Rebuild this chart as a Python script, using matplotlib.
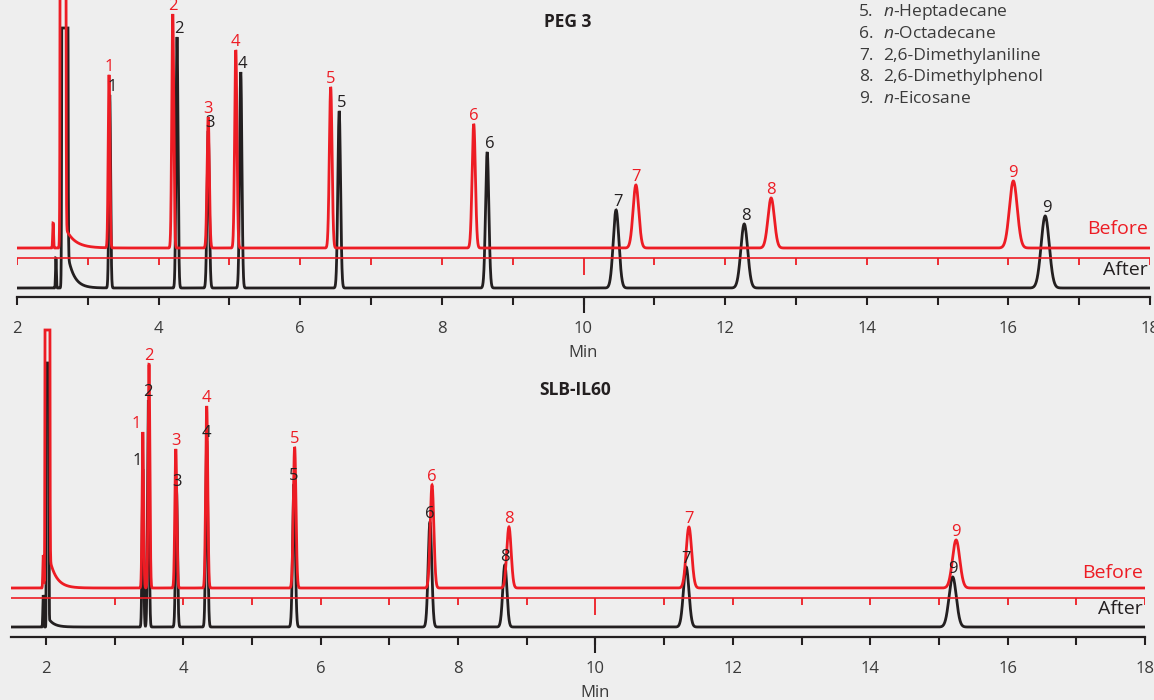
import numpy as np
import matplotlib.pyplot as plt

plt.rcParams["font.family"] = ["Open Sans", "DejaVu Sans"]
plt.rcParams["mathtext.fontset"] = "custom"
plt.rcParams["mathtext.it"] = "Open Sans:italic"
plt.rcParams["mathtext.rm"] = "Open Sans"

RED = "#ed1c24"
BLACK = "#231f20"
TEXT = "#3a3a3a"
BG = "#eeeeee"

peak_ids = ["1", "2", "3", "4", "5", "6", "7", "8", "9"]

# PEG 3 column: retention time (min), peak height, peak sigma (min)
peg_before_rt = [3.30, 4.20, 4.70, 5.09, 6.43, 8.45, 10.74, 12.65, 16.07]
peg_before_h = [173, 234, 131, 198, 161, 124, 63, 50, 67]
peg_before_sd = [0.012, 0.014, 0.016, 0.016, 0.019, 0.023, 0.040, 0.045, 0.055]
peg_after_rt = [3.31, 4.26, 4.70, 5.16, 6.55, 8.64, 10.46, 12.27, 16.52]
peg_after_h = [193, 251, 157, 216, 177, 136, 78, 64, 72]
peg_after_sd = [0.012, 0.014, 0.016, 0.016, 0.019, 0.023, 0.040, 0.048, 0.057]
# solvent front: small pre-peak (rt, h), main peak (rt, sd, cap), tail (amp, tau)
peg_before_solvent = dict(pre_rt=2.51, pre_h=25, rt=2.650, sd=0.0123, cap=400, tail=26, tau=0.13)
peg_after_solvent = dict(pre_rt=2.55, pre_h=30, rt=2.676, sd=0.0129, cap=260, tail=52, tau=0.09)

# SLB-IL60 column
slb_before_rt = [3.41, 3.50, 3.89, 4.34, 5.62, 7.62, 11.36, 8.74, 15.25]
slb_before_h = [156, 224, 139, 182, 141, 103, 61, 61, 48]
slb_before_sd = [0.011, 0.012, 0.014, 0.015, 0.019, 0.026, 0.040, 0.032, 0.053]
slb_after_rt = [3.41, 3.49, 3.90, 4.34, 5.61, 7.59, 11.32, 8.68, 15.20]
slb_after_h = [158, 227, 137, 186, 143, 105, 60, 62, 50]
slb_after_sd = [0.011, 0.012, 0.014, 0.015, 0.019, 0.026, 0.040, 0.030, 0.053]
slb_before_solvent = dict(pre_rt=1.96, pre_h=33, rt=2.021, sd=0.0105, cap=258, tail=40, tau=0.10)
slb_after_solvent = dict(pre_rt=1.96, pre_h=32, rt=2.024, sd=0.0060, cap=264, tail=10, tau=0.08)

legend_nums = ["5.", "6.", "7.", "8.", "9."]
legend_names = [r"$\it{n}$-Heptadecane", r"$\it{n}$-Octadecane",
                "2,6-Dimethylaniline", "2,6-Dimethylphenol", r"$\it{n}$-Eicosane"]


def trace(t, rts, hs, sds, solv):
    y = np.zeros_like(t)
    for rt, h, sd in zip(rts, hs, sds):
        y += h * np.exp(-0.5 * ((t - rt) / sd) ** 2)
    y += solv["pre_h"] * np.exp(-0.5 * ((t - solv["pre_rt"]) / 0.006) ** 2)
    main = 1e5 * np.exp(-0.5 * ((t - solv["rt"]) / solv["sd"]) ** 2)
    tail = np.where(t >= solv["rt"], solv["tail"] * np.exp(-(t - solv["rt"]) / solv["tau"]), 0.0)
    y += np.minimum(main + tail, solv["cap"])
    return y


def panel(ax, xmin, top, title, title_x, before, after, base_black, labels_dx,
          before_y, after_y):
    t = np.linspace(xmin, 18, 12000)
    ax.set_xlim(xmin, 18)
    ax.set_ylim(0, top)
    ax.patch.set_visible(False)
    red_base = 49
    yb = base_black + trace(t, *after)
    yr = red_base + trace(t, *before)
    ax.plot(t, yb, color=BLACK, lw=2.0, solid_joinstyle="miter")
    ax.plot(t, yr, color=RED, lw=2.0, solid_joinstyle="miter")

    # peak numbers
    for i, pid in enumerate(peak_ids):
        dx_b, dx_r = labels_dx.get(pid, (0, 0))
        ax.text(after[0][i] + dx_b, base_black + after[1][i] + 4, pid, color=BLACK,
                fontsize=12, ha="center", va="baseline")
        ax.text(before[0][i] + dx_r, red_base + before[1][i] + 4, pid, color=RED,
                fontsize=12, ha="center", va="baseline")

    # black time axis (real x axis)
    for s in ["top", "right", "left"]:
        ax.spines[s].set_visible(False)
    ax.spines["bottom"].set_color(BLACK)
    ax.spines["bottom"].set_linewidth(1.6)
    ticks = list(range(2, 19))
    ax.set_xticks(ticks)
    ax.set_xticklabels([str(v) if v % 2 == 0 else "" for v in ticks])
    ax.tick_params(axis="x", direction="out", length=6, width=1.5, color=BLACK,
                   labelsize=12, labelcolor=TEXT, pad=11)
    ax.set_yticks([])
    ax.vlines(10, -16, 0, color=BLACK, lw=1.5, clip_on=False)

    # red time axis drawn above it
    ax.hlines(39, xmin, 18, color=RED, lw=1.2)
    rticks = [v for v in ticks if v != 10 and (xmin >= 2 or v > 2)]
    ax.vlines(rticks, 32, 39, color=RED, lw=1.3)
    ax.vlines(10, 22, 39, color=RED, lw=1.3)

    ax.text(17.97, before_y, "Before", color=RED, fontsize=14, ha="right", va="center")
    ax.text(17.97, after_y, "After", color=BLACK, fontsize=14, ha="right", va="center")
    ax.text(title_x, top - (22 if top < 300 else 70), title, fontsize=12.5,
            fontweight="bold", color=BLACK, ha="center", va="center")
    ax.text(10, -56, "Min", fontsize=12, color=TEXT, ha="center", va="center", clip_on=False)


W, H = 1154, 700
fig = plt.figure(figsize=(W / 100, H / 100), dpi=100, facecolor=BG)

ax1 = fig.add_axes([17 / W, (H - 297) / H, (1150 - 17) / W, 297 / H])
panel(ax1, 2.0, 297, "PEG 3", 9.77,
      (peg_before_rt, peg_before_h, peg_before_sd, peg_before_solvent),
      (peg_after_rt, peg_after_h, peg_after_sd, peg_after_solvent),
      9, {p: (0.03, 0) for p in peak_ids}, 68, 27)
for i, (num, name) in enumerate(zip(legend_nums, legend_names)):
    y = 285 - 21.8 * i
    ax1.text(13.89, y, num, fontsize=12.5, color=TEXT, va="center", ha="left")
    ax1.text(14.23, y, name, fontsize=12.5, color=TEXT, va="center", ha="left")

ax2 = fig.add_axes([11 / W, (H - 637) / H, (1145 - 11) / W, 317 / H])
panel(ax2, 1.4905, 317, "SLB-IL60", 9.70,
      (slb_before_rt, slb_before_h, slb_before_sd, slb_before_solvent),
      (slb_after_rt, slb_after_h, slb_after_sd, slb_after_solvent),
      10, {"1": (-0.08, -0.09)}, 64, 28)

fig.savefig("out.png", dpi=100, facecolor=BG)
